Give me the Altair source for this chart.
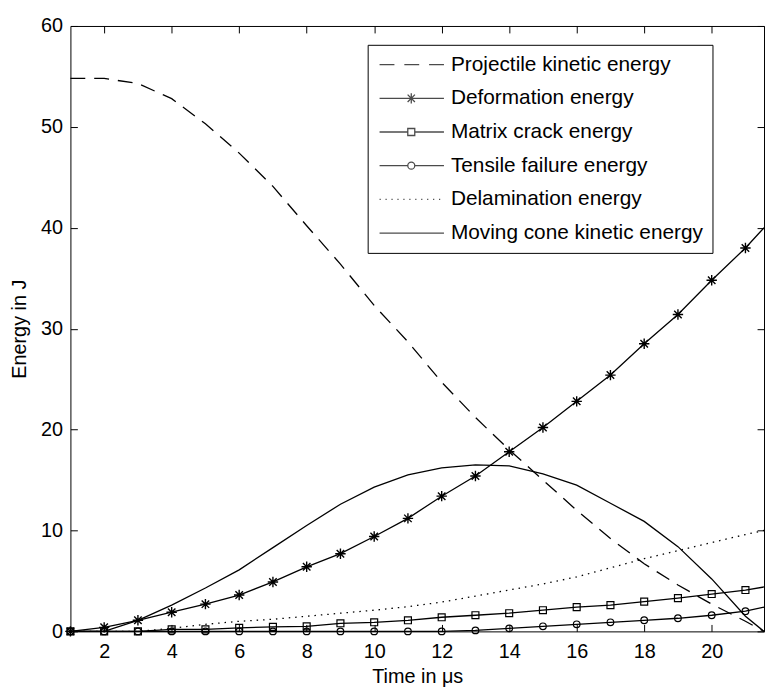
import altair as alt
import pandas as pd

# ---------------- data ----------------
time_us = [1, 2, 3, 4, 5, 6, 7, 8, 9, 10, 11, 12, 13, 14, 15, 16, 17, 18, 19, 20, 21, 21.55]

series_names = [
    "Projectile kinetic energy",
    "Deformation energy",
    "Matrix crack energy",
    "Tensile failure energy",
    "Delamination energy",
    "Moving cone kinetic energy",
]

projectile = [54.8, 54.8, 54.3, 52.8, 50.3, 47.4, 44.1, 40.2, 36.4, 32.3, 28.7,
              24.7, 21.2, 18.0, 15.0, 12.0, 9.2, 6.7, 4.6, 2.7, 1.0, 0.0]
deformation = [0.0, 0.4, 1.1, 1.9, 2.7, 3.6, 4.9, 6.4, 7.7, 9.4, 11.2,
               13.4, 15.4, 17.8, 20.2, 22.8, 25.4, 28.5, 31.4, 34.8, 38.0, 40.0]
matrix_crack = [0.0, 0.0, 0.0, 0.2, 0.2, 0.35, 0.45, 0.5, 0.8, 0.9, 1.1,
                1.4, 1.6, 1.8, 2.1, 2.4, 2.6, 2.95, 3.3, 3.7, 4.1, 4.4]
tensile = [0.0, 0.0, 0.0, 0.0, 0.0, 0.0, 0.0, 0.0, 0.0, 0.0, 0.0,
           0.0, 0.1, 0.3, 0.5, 0.7, 0.9, 1.1, 1.3, 1.6, 2.0, 2.4]
delamination = [0.0, 0.0, 0.0, 0.3, 0.7, 1.0, 1.2, 1.5, 1.8, 2.1, 2.45,
                2.9, 3.5, 4.1, 4.7, 5.4, 6.3, 7.2, 8.0, 8.8, 9.6, 10.0]
moving_cone = [0.0, 0.0, 1.1, 2.6, 4.3, 6.1, 8.3, 10.5, 12.6, 14.3, 15.5,
               16.2, 16.5, 16.4, 15.6, 14.5, 12.7, 10.9, 8.4, 5.2, 1.5, 0.0]

x_ticks = [2, 4, 6, 8, 10, 12, 14, 16, 18, 20]
y_ticks = [0, 10, 20, 30, 40, 50, 60]

values_by_series = [projectile, deformation, matrix_crack, tensile, delamination, moving_cone]
rows = []
for name, vals in zip(series_names, values_by_series):
    for t, v in zip(time_us, vals):
        rows.append({"time": t, "energy": v, "series": name})
df = pd.DataFrame(rows)

# ---------------- styles ----------------
W, H = 700, 611
FONT = "Liberation Sans"
TICK = 7

x_scale = alt.Scale(domain=[1, 21.55], nice=False, zero=False)
y_scale = alt.Scale(domain=[0, 60], nice=False, zero=False)

line_dashes = [[15, 9], None, None, None, [1.5, 5], None]

ASTERISK = "M0,-1V1M-1,0H1M-0.72,-0.72L0.72,0.72M-0.72,0.72L0.72,-0.72"

# legend symbols (line + marker), unit = 8 px
dot_path = "".join(f"M{-1 + k * 0.75:.3f},0h0.15" for k in range(11))
legend_paths = [
    "M-1,0H0.875M2.125,0H4M5.25,0H7.125",
    "M-1,0H7.125M3,-0.65V0.65M2.54,-0.46L3.46,0.46M2.54,0.46L3.46,-0.46",
    "M-1,0H2.56M3.44,0H7.125M2.56,-0.44H3.44V0.44H2.56Z",
    "M-1,0H2.56M3.44,0H7.125M3.44,0A0.44,0.44,0,1,1,2.56,0A0.44,0.44,0,1,1,3.44,0",
    dot_path,
    "M-1,0H7.125",
]


def tick_axis(orient, offset, values):
    return alt.Axis(orient=orient, offset=offset, values=values, labels=False,
                    ticks=True, tickSize=TICK, tickColor="black", tickWidth=1,
                    domain=False, grid=False, title="")


label_x_axis = alt.Axis(orient="bottom", values=x_ticks, title="Time in μs",
                        ticks=False, tickSize=0, domain=False, grid=False,
                        labelPadding=10, titlePadding=6)
label_y_axis = alt.Axis(orient="left", values=y_ticks, title="Energy in J",
                        ticks=False, tickSize=0, domain=False, grid=False,
                        labelPadding=8, titlePadding=11)

# which axes each line layer carries (labels + inward ticks on all four sides)
x_axes = [label_x_axis, tick_axis("top", -H, x_ticks), tick_axis("bottom", -H, x_ticks),
          None, None, None]
y_axes = [label_y_axis, tick_axis("right", -W, y_ticks), tick_axis("left", -W, y_ticks),
          None, None, None]

base = alt.Chart(df)

layers = []
for i, name in enumerate(series_names):
    mark_kw = dict(color="black", strokeWidth=1.3)
    if line_dashes[i] is not None:
        mark_kw["strokeDash"] = line_dashes[i]
    layers.append(
        base.transform_filter(alt.datum.series == name).mark_line(**mark_kw).encode(
            x=alt.X("time:Q", scale=x_scale, axis=x_axes[i]),
            y=alt.Y("energy:Q", scale=y_scale, axis=y_axes[i]),
        )
    )

marker_filter = "datum.time == floor(datum.time)"
marker_specs = [
    (series_names[1], ASTERISK, 110, 1.4),
    (series_names[2], "square", 49, 1.2),
    (series_names[3], "circle", 45, 1.2),
]
for name, shape, size, sw in marker_specs:
    layers.append(
        base.transform_filter(alt.datum.series == name).transform_filter(marker_filter)
        .mark_point(shape=shape, size=size, filled=False, color="black", strokeWidth=sw, opacity=1)
        .encode(
            x=alt.X("time:Q", scale=x_scale, axis=None),
            y=alt.Y("energy:Q", scale=y_scale, axis=None),
        )
    )

# legend-only layer: no rows survive the filter, the legend comes from the explicit domain
layers.append(
    base.transform_filter("false").mark_point(filled=False, color="black").encode(
        x=alt.X("time:Q", scale=x_scale, axis=None),
        y=alt.Y("energy:Q", scale=y_scale, axis=None),
        shape=alt.Shape(
            "series:N",
            scale=alt.Scale(domain=series_names, range=legend_paths),
            legend=alt.Legend(
                title=None, orient="none", legendX=300, legendY=19, direction="vertical",
                fillColor="white", strokeColor="black", padding=9.5, rowPadding=12,
                labelFont=FONT, labelFontSize=21, labelColor="black", labelOffset=53.5,
                labelLimit=400, symbolSize=256, symbolStrokeWidth=1.3,
                symbolStrokeColor="black",
            ),
        ),
    )
)

chart = (
    alt.layer(*layers)
    .resolve_axis(x="independent", y="independent")
    .properties(
        width=W,
        height=H,
        autosize=alt.AutoSizeParams(type="none"),
        padding={"left": 63, "top": 15, "right": 1, "bottom": 55},
        background="white",
    )
    .configure_view(stroke="black", strokeWidth=1)
    .configure_axis(labelFont=FONT, labelFontSize=20, labelColor="black",
                    titleFont=FONT, titleFontSize=20, titleFontWeight="normal",
                    titleColor="black")
)

chart.save("out.html", embed_options={"renderer": "svg", "actions": False})
